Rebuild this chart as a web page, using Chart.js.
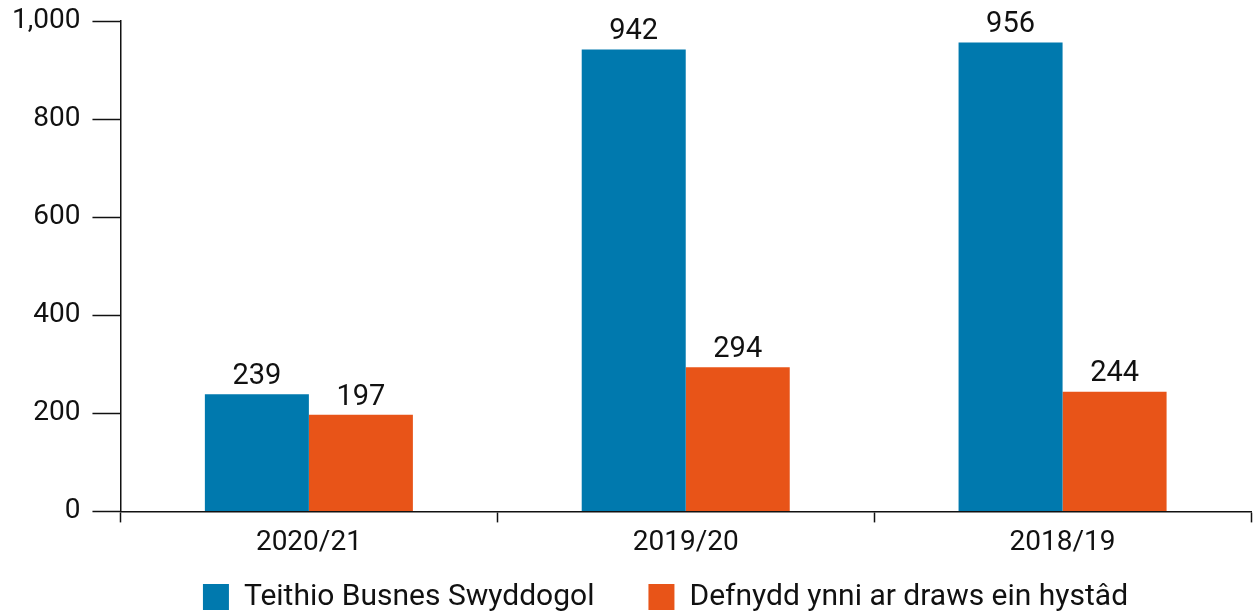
<!DOCTYPE html>
<html>
<head>
<meta charset="utf-8">
<script src="https://cdn.jsdelivr.net/npm/chart.js@4/dist/chart.umd.min.js"></script>
<style>
  body { margin: 0; background: #fff; }
  #wrap { width: 1253px; height: 615px; }
</style>
</head>
<body>
<div id="wrap"><canvas id="chart"></canvas></div>
<script>
const categories = ['2020/21', '2019/20', '2018/19'];
const travelValues = [239, 942, 956];
const energyValues = [197, 294, 244];
const seriesNames = ['Teithio Busnes Swyddogol', 'Defnydd ynni ar draws ein hystâd'];

const legendGap = 54;

// draw the value above each bar
const valueLabels = {
    id: 'valueLabels',
    afterDatasetsDraw(chart) {
        const ctx = chart.ctx;
        ctx.save();
        ctx.font = '29px Roboto';
        ctx.fillStyle = '#111';
        ctx.textAlign = 'center';
        ctx.textBaseline = 'bottom';
        chart.data.datasets.forEach((ds, i) => {
            chart.getDatasetMeta(i).data.forEach((bar, j) => {
                ctx.fillText(ds.data[j], bar.x, bar.y - 3);
            });
        });
        ctx.restore();
    }
};

// wide gap between legend items without a tall legend box
const legendFit = {
    id: 'legendFit',
    beforeInit(chart) {
        const legend = chart.legend;
        const fit = legend.fit;
        legend.fit = function () {
            fit.call(this);
            this.height = 51;
        };
    },
    afterLayout(chart) {
        const legend = chart.legend;
        legend.top = chart.height - 33 - legendGap;
        legend.left += 40;
        legend.right += 40;
    }
};

new Chart(document.getElementById('chart'), {
    type: 'bar',
    data: {
        labels: categories,
        datasets: [
            { label: seriesNames[0], data: travelValues, backgroundColor: '#0079AE' },
            { label: seriesNames[1], data: energyValues, backgroundColor: '#E85418' }
        ]
    },
    options: {
        responsive: true,
        maintainAspectRatio: false,
        animation: false,
        categoryPercentage: 0.552,
        barPercentage: 1,
        layout: { padding: { top: 0, right: 2, left: 0, bottom: 0 } },
        scales: {
            x: {
                grid: { drawOnChartArea: false, color: '#111', tickLength: 11, tickWidth: 1.5 },
                border: { color: '#111', width: 1.5 },
                ticks: { color: '#111', font: { family: 'Roboto', size: 28 }, padding: 4 }
            },
            y: {
                min: 0,
                max: 1000,
                afterFit: scale => { scale.paddingTop = 21; },
                grid: { drawOnChartArea: false, color: '#111', tickLength: 28, tickWidth: 1.5 },
                border: { color: '#111', width: 1.5 },
                ticks: {
                    stepSize: 200,
                    color: '#111',
                    padding: 12,
                    font: { family: 'Roboto', size: 28 },
                    callback: v => v.toLocaleString('en-US')
                }
            }
        },
        plugins: {
            legend: {
                position: 'bottom',
                labels: {
                    color: '#111',
                    font: { family: 'Roboto', size: 30 },
                    boxWidth: 26,
                    boxHeight: 26,
                    padding: legendGap
                }
            },
            tooltip: { enabled: false }
        }
    },
    plugins: [valueLabels, legendFit]
});
</script>
</body>
</html>
